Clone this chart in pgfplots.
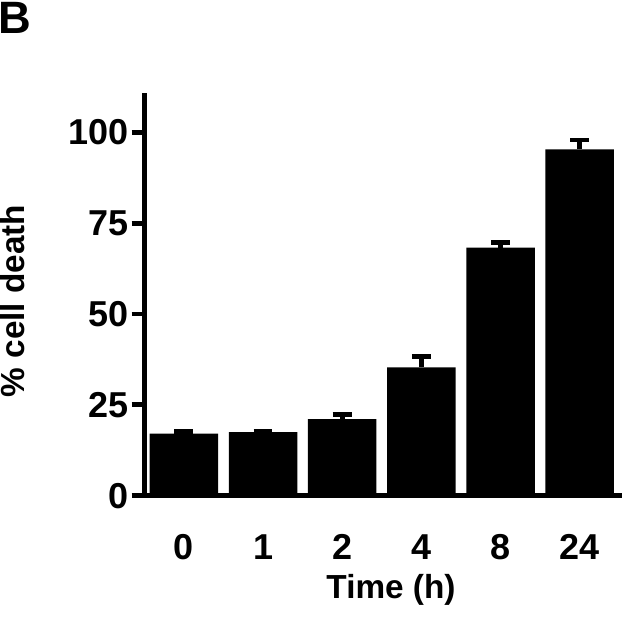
\documentclass[border=0pt]{standalone}
\usepackage{fontspec}
\setmainfont{Liberation Sans}
\usepackage{pgfplots}
\pgfplotsset{compat=1.18}

\begin{document}
\begin{tikzpicture}
\path[use as bounding box] (0,0) rectangle (480pt,465.75pt);
\begin{axis}[
  at={(108.2pt,93.98pt)}, anchor=south west,
  scale only axis,
  width=358.05pt, height=301.9pt,
  axis lines=left,
  axis line style={-, line width=3.4pt},
  xmin=-0.5, xmax=5.53,
  ymin=0, ymax=110.8,
  xtick={0,1,2,3,4,5},
  xticklabels={0,1,2,4,8,24},
  ytick={0,25,50,75,100},
  tick align=outside,
  major tick length=9.5pt,
  tick style={line width=3.6pt, black},
  xtick style={draw=none},
  /pgf/number format/assume math mode=true,
  tick label style={font=\bfseries\fontsize{27}{32}\selectfont},
  yticklabel style={xshift=1pt},
  xticklabel style={yshift=-16pt},
  ybar, bar width=0.865,
]
% mean % cell death with upper error
\addplot[fill=black, draw=none,
  error bars/.cd, y dir=plus, y explicit,
  error bar style={line width=3.7pt, black},
  error mark options={rotate=90, mark size=7.1pt, line width=3.6pt, black}]
  coordinates {
  (0,17.1) +- (0,0.5)
  (1,17.5) +- (0,0.1)
  (2,21.1) +- (0,1.2)
  (3,35.3) +- (0,3.0)
  (4,68.3) +- (0,1.3)
  (5,95.3) +- (0,2.6)
};
\end{axis}
\node[anchor=base, font=\bfseries\fontsize{25}{30}\selectfont] at (293.25pt,17pt) {Time (h)};
\node[anchor=base, rotate=90, font=\bfseries\fontsize{25}{30}\selectfont] at (18.75pt,240pt) {\% cell death};
\node[anchor=north west, inner sep=0pt, font=\bfseries\fontsize{34}{40}\selectfont] at (-1.5pt,464.5pt) {B};
\end{tikzpicture}
\end{document}
